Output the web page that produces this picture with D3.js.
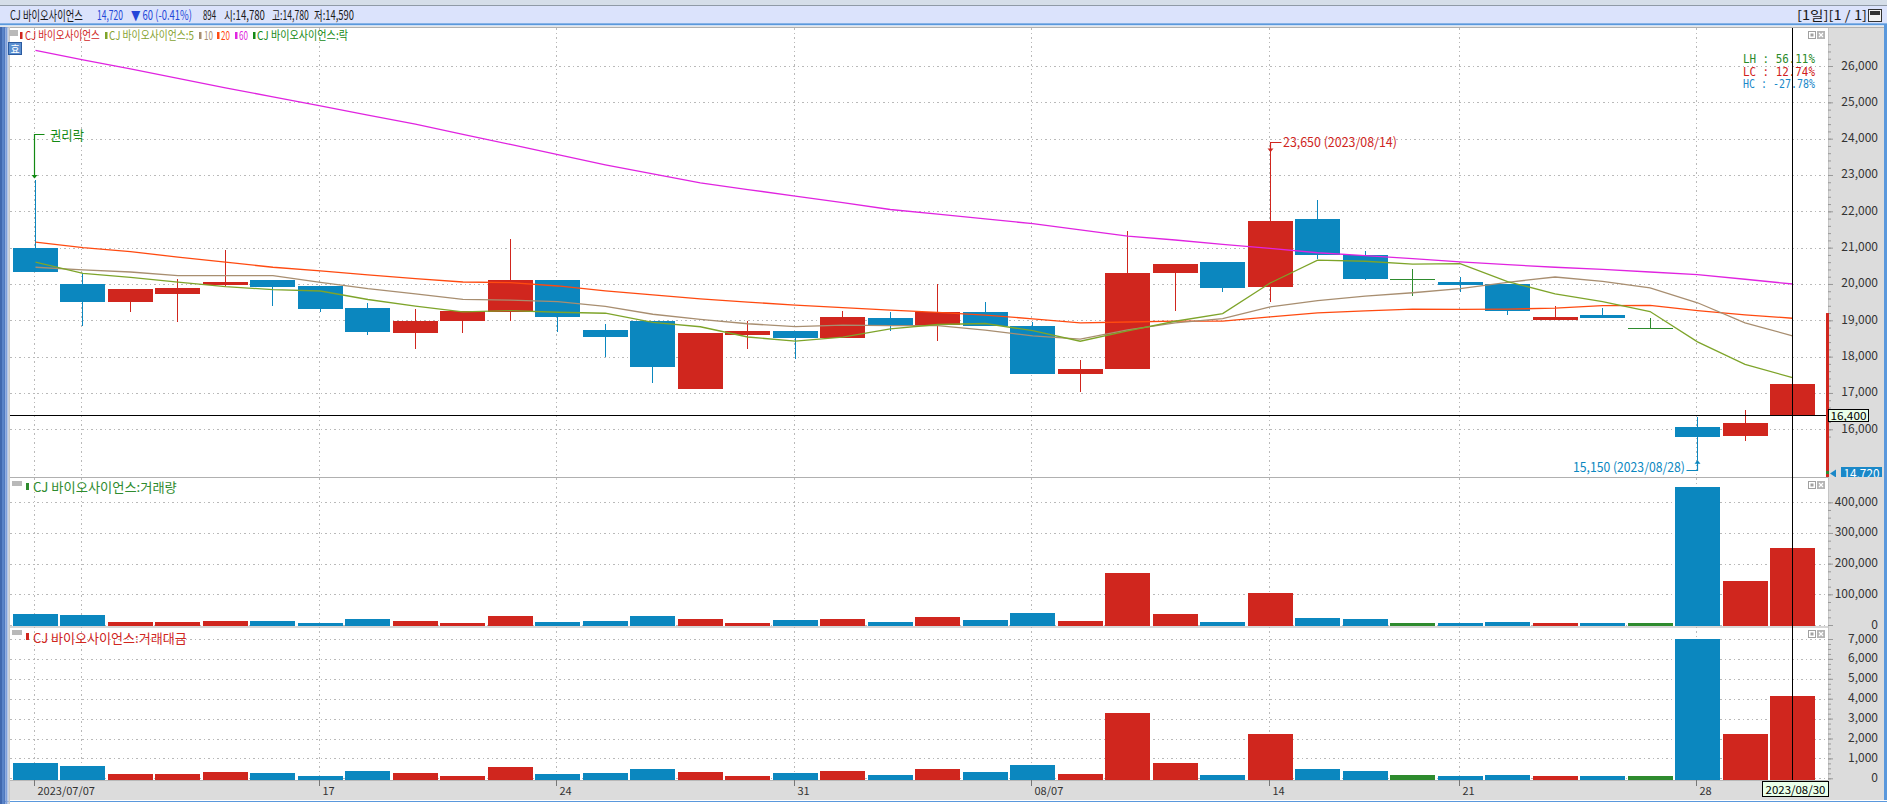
<!DOCTYPE html>
<html><head><meta charset="utf-8">
<script src="https://cdn.jsdelivr.net/npm/d3@7"></script>
<style>
html,body{margin:0;padding:0;background:#fff;overflow:hidden}
svg{display:block}
</style></head><body><svg id="c" width="1887" height="804"></svg>
<script>
// ---------------- data ----------------
const dates = ["2023-07-07","2023-07-10","2023-07-11","2023-07-12","2023-07-13","2023-07-14",
"2023-07-17","2023-07-18","2023-07-19","2023-07-20","2023-07-21",
"2023-07-24","2023-07-25","2023-07-26","2023-07-27","2023-07-28",
"2023-07-31","2023-08-01","2023-08-02","2023-08-03","2023-08-04",
"2023-08-07","2023-08-08","2023-08-09","2023-08-10","2023-08-11",
"2023-08-14","2023-08-16","2023-08-17","2023-08-18",
"2023-08-21","2023-08-22","2023-08-23","2023-08-24","2023-08-25",
"2023-08-28","2023-08-29","2023-08-30"];
const openP  = [21000,20000,19500,19725,19970,20110,19950,19340,18650,18980,19230,20110,18735,18980,17110,18600,18700,18510,19070,18870,19230,18840,17520,17650,20300,20600,19930,21790,20800,20150,20060,20000,19000,19140,18800,16070,15820,16400];
const highP  = [22850,20290,19860,20130,20935,20110,19950,19480,19310,19250,21230,20110,18900,18980,18650,18980,18700,19270,19230,20000,19500,18940,17900,21460,20560,20600,23650,22300,20900,20400,20200,20000,19400,19350,19050,16330,16530,17830];
const lowP   = [20330,18850,19230,18960,19945,19390,19240,18600,18210,18650,18980,18680,17990,17280,17110,18200,17940,18510,18700,18440,18840,17520,17030,17650,19270,19780,19500,20700,20100,19670,19780,19140,19000,19070,18800,15150,15690,15770];
const closeP = [20330,19505,19850,19890,20055,19920,19320,18680,18980,19250,20110,19090,18545,17720,18650,18700,18510,19100,18870,19240,18840,17520,17650,20300,20560,19900,21720,20800,20150,20150,19970,19270,19100,19070,18800,15800,16180,17250];
const ma5  = [20600,20290,20180,20050,19926,19844,19807,19573,19391,19230,19268,19222,19195,18943,18823,18541,18425,18536,18766,18884,18912,18714,18424,18710,18974,19186,20026,20656,20626,20544,20558,20068,19728,19512,19242,18408,17790,17420];
const ma10 = [20460,20390,20330,20230,20230,20230,20045,19870,19730,19578,19556,19515,19384,19167,19027,18905,18824,18866,18855,18854,18727,18570,18480,18738,18929,19049,19370,19540,19668,19759,19872,20047,20192,20069,19893,19483,18929,18574];
const ma20 = [21150,21000,20890,20740,20600,20460,20360,20250,20150,20055,20035,19945,19810,19700,19590,19500,19420,19350,19280,19216,19141,19042,18932,18953,18978,18977,19097,19203,19261,19306,19299,19308,19336,19404,19411,19266,19150,19057];
const ma60 = [26430,26170,25920,25660,25400,25150,24900,24650,24400,24120,23840,23560,23280,23030,22780,22600,22420,22240,22050,21920,21790,21660,21490,21320,21210,21090,20980,20860,20780,20700,20610,20530,20460,20400,20330,20260,20130,20000];
const volume = [35000,31000,10000,10000,14000,12000,7000,18000,13000,6000,30000,11000,13000,28000,19000,7000,15000,19000,10000,25000,16000,38000,13000,168000,37000,9000,104000,22000,18000,8000,6000,9000,5000,5000,5000,450000,142000,252000];
const amount = [780,640,200,230,300,250,140,350,250,110,580,220,270,480,340,140,290,370,190,470,310,680,240,3300,750,180,2230,470,390,170,120,180,100,100,100,7000,2230,4150];
const priceTicks  = [16000,17000,18000,19000,20000,21000,22000,23000,24000,25000,26000];
const volumeTicks = [0,100000,200000,300000,400000];
const amountTicks = [0,1000,2000,3000,4000,5000,6000,7000];
const gridDates  = ["2023-07-07","2023-07-10","2023-07-17","2023-07-24","2023-07-31","2023-08-07","2023-08-14","2023-08-21","2023-08-28"];
const labelDates = ["2023-07-07","2023-07-17","2023-07-24","2023-07-31","2023-08-07","2023-08-14","2023-08-21","2023-08-28"];
const labelTexts = ["2023/07/07","17","24","31","08/07","14","21","28"];
const crossDate = "2023-08-30", crossPrice = 16400;

// ---------------- setup ----------------
const F = '"Noto Sans CJK KR","Liberation Sans",sans-serif';
const svg = d3.select('#c');
const UP='#d0261e', DN='#0b87bf', EQ='#2e8b2e';
const colorOf = i => closeP[i]>openP[i]?UP:(closeP[i]<openP[i]?DN:EQ);

const x  = d3.scalePoint().domain(dates).range([35,1792]);
const yP = d3.scaleLinear().domain([16000,26000]).range([429.3,66]);
const yV = d3.scaleLinear().domain([0,400000]).range([625,502.3]);
const yA = d3.scaleLinear().domain([0,7000]).range([778.3,639]);
const BW = 45;

function rect(g,x0,y0,w,h,fill){return g.append('rect').attr('x',x0).attr('y',y0).attr('width',w).attr('height',h).attr('fill',fill);}
function txt(g,x0,y0,s,o={}){
  const size=o.size||12;
  const t=g.append('text').text(s).attr('font-size',size).attr('fill',o.color||'#222').attr('font-family',o.family||F);
  if(o.anchor) t.attr('text-anchor',o.anchor);
  if(o.len){
    const w=t.node().getComputedTextLength();
    const fs=size*o.len/w;
    t.attr('font-size',fs).attr('transform',`translate(${x0},${y0}) scale(1,${(size/fs).toFixed(4)})`);
  } else t.attr('x',x0).attr('y',y0);
  return t;
}

const defs = svg.append('defs');
[['clipP',10,28,1818,449],['clipV',10,478,1818,148],['clipA',10,628,1818,152],['clipAx',1826,27,60,450]].forEach(([id,a,b,w,h])=>
  defs.append('clipPath').attr('id',id).append('rect').attr('x',a).attr('y',b).attr('width',w).attr('height',h));

// ---------------- frame ----------------
rect(svg,0,0,1887,804,'#ffffff');
rect(svg,0,0,1887,6,'#d5dee9');
rect(svg,0,5,1887,1,'#8f9aa6');
rect(svg,0,6,1887,17.5,'#dbe3fc');
rect(svg,0,23.3,1887,2,'#5a98dc');
rect(svg,0,26.7,1887,1.3,'#b0b0b0');
rect(svg,1828,28,56,752,'#dcdcdc');
rect(svg,1828,28,1,752,'#c4c4c4');
rect(svg,1884,24,3,780,'#5a98dc');
rect(svg,10,780,1874,20,'#dcdcdc');
rect(svg,10,780,1818,1,'#b8b8b8');
rect(svg,0,800,1887,4,'#ffffff');
rect(svg,0,801,1887,1,'#5a98dc');
[['#4068ae',0,2],['#5a84c8',2,2],['#4f78bf',4,1.5],['#7e9fda',5.5,2],['#a9bfe6',7.5,1],['#c8c8c8',8.5,1.5]].forEach(([c,a,w])=>rect(svg,a,27,w,777,c));

// header text
const hg = svg.append('g');
txt(hg,10,19.5,'CJ 바이오사이언스',{size:13,len:73,color:'#1a1a1a'});
txt(hg,97,19.5,'14,720',{size:13,len:26,color:'#2346d8'});
txt(hg,131,19.5,'▼ 60 (-0.41%)',{size:13,len:61,color:'#2346d8'});
txt(hg,203,19.5,'894',{size:13,len:13,color:'#1a1a1a'});
txt(hg,224,19.5,'시:14,780',{size:13,len:41,color:'#1a1a1a'});
txt(hg,272,19.5,'고:14,780',{size:13,len:37,color:'#1a1a1a'});
txt(hg,314,19.5,'저:14,590',{size:13,len:40,color:'#1a1a1a'});
txt(hg,1797,19.5,'[1일][1 / 1]',{size:13,len:70,color:'#1a1a1a'});
rect(hg,1868.5,9.5,13,12,'#f2f2f2').attr('stroke','#333');
rect(hg,1870,11,10,4,'#333');

// ---------------- grid ----------------
const grid = svg.append('g').attr('stroke','#b9b9b9').attr('stroke-dasharray','1.5,3').attr('shape-rendering','crispEdges');
priceTicks.forEach(t=>{const yy=Math.round(yP(t))+0.5; grid.append('line').attr('x1',10).attr('x2',1826).attr('y1',yy).attr('y2',yy);});
volumeTicks.forEach(t=>{const yy=Math.round(yV(t))+0.5; grid.append('line').attr('x1',10).attr('x2',1826).attr('y1',yy).attr('y2',yy);});
amountTicks.forEach(t=>{const yy=Math.round(yA(t))+0.5; grid.append('line').attr('x1',10).attr('x2',1826).attr('y1',yy).attr('y2',yy);});
gridDates.forEach(d=>{const xx=Math.round(x(d))-0.5; grid.append('line').attr('x1',xx).attr('x2',xx).attr('y1',28).attr('y2',780);});

// ---------------- candles ----------------
const cg = svg.append('g').attr('clip-path','url(#clipP)').attr('shape-rendering','crispEdges');
dates.forEach((d,i)=>{
  const cx=Math.round(x(d)), c=colorOf(i);
  cg.append('line').attr('x1',cx+0.5).attr('x2',cx+0.5).attr('y1',yP(highP[i])).attr('y2',yP(lowP[i])).attr('stroke',c).attr('stroke-width',1);
  const y1=yP(Math.max(openP[i],closeP[i])), y2=yP(Math.min(openP[i],closeP[i]));
  rect(cg,cx-22,y1,BW,Math.max(1.5,y2-y1),c);
});
const lineGen = d3.line().x((v,i)=>x(dates[i])+0.5).y(v=>yP(v));
const mg = svg.append('g').attr('clip-path','url(#clipP)').attr('fill','none').attr('stroke-width',1.3);
[[ma60,'#e024e0'],[ma20,'#ff4a10'],[ma10,'#a88e70'],[ma5,'#7ea42a']].forEach(([arr,c])=>mg.append('path').attr('d',lineGen(arr)).attr('stroke',c));

// ---------------- volume & amount bars ----------------
const vg = svg.append('g').attr('clip-path','url(#clipV)').attr('shape-rendering','crispEdges');
dates.forEach((d,i)=>{const cx=Math.round(x(d)); rect(vg,cx-22,yV(volume[i]),BW,yV(0)+2-yV(volume[i]),colorOf(i));});
const ag = svg.append('g').attr('clip-path','url(#clipA)').attr('shape-rendering','crispEdges');
dates.forEach((d,i)=>{const cx=Math.round(x(d)); rect(ag,cx-22,yA(amount[i]),BW,yA(0)+1.5-yA(amount[i]),colorOf(i));});

rect(svg,10,477,1818,1,'#b0b0b0');
rect(svg,10,626.5,1818,1,'#b0b0b0');

// ---------------- axes ----------------
function rightAxis(scale,ticks,minor,fmt){
  const g=svg.append('g').attr('transform','translate(1828,0)');
  const gm=g.append('g').call(d3.axisRight(scale).tickValues(minor).tickSize(3).tickFormat(''));
  gm.select('.domain').remove(); gm.selectAll('line').attr('stroke','#9a9a9a');
  const ga=g.append('g').call(d3.axisRight(scale).tickValues(ticks).tickSize(5).tickFormat(fmt));
  ga.select('.domain').remove(); ga.selectAll('line').attr('stroke','#9a9a9a');
  ga.attr('font-size',12).attr('font-family',F);
  ga.selectAll('text').attr('x',50).attr('text-anchor','end').attr('fill','#333').attr('dy','0.25em');
}
const fmt = d3.format(',');
rightAxis(yP,priceTicks,d3.range(15800,26601,200),fmt);
rightAxis(yV,volumeTicks,d3.range(0,420001,25000),fmt);
rightAxis(yA,amountTicks,d3.range(0,7001,250),fmt);

const xg = svg.append('g');
labelDates.forEach((d,i)=>{
  const xx=Math.round(x(d))-0.5;
  xg.append('line').attr('x1',xx).attr('x2',xx).attr('y1',780).attr('y2',786).attr('stroke','#777');
  txt(xg,xx+3,795,labelTexts[i],{size:11,color:'#333'});
});

// ---------------- legends ----------------
const lg = svg.append('g');
rect(lg,9,30,9,6,'#b9b9b9');
rect(lg,20,32,2.5,7,'#d0261e'); txt(lg,25,39.5,'CJ 바이오사이언스',{size:12,len:75,color:'#d0261e'});
rect(lg,105,32,2.5,7,'#7ea42a'); txt(lg,109,39.5,'CJ 바이오사이언스:5',{size:12,len:85,color:'#86a332'});
rect(lg,199,32,2.5,7,'#a88e70'); txt(lg,204,39.5,'10',{size:12,len:9,color:'#a88e70'});
rect(lg,217,32,2.5,7,'#ff4a10'); txt(lg,221,39.5,'20',{size:12,len:9,color:'#ff4a10'});
rect(lg,235,32,2.5,7,'#e024e0'); txt(lg,239,39.5,'60',{size:12,len:9,color:'#e024e0'});
rect(lg,253,32,2.5,7,'#158a15'); txt(lg,257,39.5,'CJ 바이오사이언스:락',{size:12,len:91,color:'#158a15'});
rect(lg,8.5,42.5,13,12,'#5b8fd0').attr('stroke','#2b5aa0');
txt(lg,15,52.5,'효',{size:10,color:'#fff',anchor:'middle'});

rect(lg,12,481,10,5,'#b9b9b9');
rect(lg,26,483,3,7,'#2e8b2e'); txt(lg,33,492,'CJ 바이오사이언스:거래량',{size:13,len:144,color:'#2e8b2e'});
rect(lg,12,630,10,5,'#b9b9b9');
rect(lg,26,633,3,7,'#d0261e'); txt(lg,33,643,'CJ 바이오사이언스:거래대금',{size:13,len:154,color:'#d0261e'});

[31,481,630].forEach(py=>{
  rect(lg,1808.5,py+0.5,7,7,'#fff').attr('stroke','#a0a0a0');
  rect(lg,1810.5,py+2.5,3,3,'#a0a0a0');
  rect(lg,1817,py,8,8,'#b4b4b4');
  lg.append('path').attr('d',`M${1819},${py+2}L${1823},${py+6}M${1823},${py+2}L${1819},${py+6}`).attr('stroke','#fff').attr('stroke-width',1.2);
});

const mono='"DejaVu Sans Mono","Liberation Mono",monospace';
txt(lg,1743,63,'LH :  56.11%',{size:13,len:72,color:'#2a8a2a',family:mono});
txt(lg,1743,75.5,'LC :  12.74%',{size:13,len:72,color:'#d02020',family:mono});
txt(lg,1743,88,'HC : -27.78%',{size:13,len:72,color:'#1a88c8',family:mono});

// ---------------- annotations ----------------
const an = svg.append('g').attr('fill','none');
const x0 = Math.round(x(dates[0]))-0.5, yEx = yP(highP[0])-3;
an.append('path').attr('d',`M${x0},${yEx} V134.5 H${x0+10}`).attr('stroke','#138a13').attr('stroke-width',1.2);
an.append('path').attr('d',`M${x0-3},${yEx-2.5} H${x0+3} L${x0},${yEx+1} Z`).attr('fill','#138a13');
txt(svg,50,139.5,'권리락',{size:13,len:34,color:'#138a13'});
const iH = dates.indexOf("2023-08-14"), xH=Math.round(x(dates[iH]))+0.5, yH=yP(highP[iH]);
an.append('path').attr('d',`M${xH},${yH} V142.5 H${xH+11}`).attr('stroke','#d0261e').attr('stroke-width',1.2);
an.append('path').attr('d',`M${xH-3},${yH-3} H${xH+3} L${xH},${yH+0.5} Z`).attr('fill','#d0261e');
txt(svg,1283,147,'23,650 (2023/08/14)',{size:13,len:114,color:'#d0261e'});
const iL = dates.indexOf("2023-08-28"), xL=Math.round(x(dates[iL]))+0.5, yL=yP(lowP[iL]);
an.append('path').attr('d',`M${xL},${yL} V470.5 H${xL-11}`).attr('stroke','#0b87bf').attr('stroke-width',1.2);
an.append('path').attr('d',`M${xL-3},${yL+3.5} H${xL+3} L${xL},${yL} Z`).attr('fill','#0b87bf');
txt(svg,1573,471.5,'15,150 (2023/08/28)',{size:13,len:112,color:'#0b87bf'});

// ---------------- crosshair & markers ----------------
const xc = Math.round(x(crossDate))+0.5, yc=Math.round(yP(crossPrice))+0.5;
svg.append('line').attr('x1',10).attr('x2',1828).attr('y1',yc).attr('y2',yc).attr('stroke','#000');
svg.append('line').attr('x1',xc).attr('x2',xc).attr('y1',28).attr('y2',780).attr('stroke','#000');
rect(svg,1826,yP(19200),3,477-yP(19200),'#d0261e');
rect(svg,1826,471,3,3,'#2e8b2e');
const mk = svg.append('g').attr('clip-path','url(#clipAx)');
mk.append('path').attr('d','M1830,473.5 L1836,469.5 L1836,477.5 Z').attr('fill','#1a88c8');
rect(mk,1841,467,41,14,'#1a88c8');
txt(mk,1861.5,478,'14,720',{size:12,color:'#fff',anchor:'middle',len:36});
rect(svg,1828.5,409.5,40,12,'#eaffea').attr('stroke','#000');
txt(svg,1848.5,419.5,'16,400',{size:11,color:'#000',anchor:'middle',len:36});
rect(svg,1762.5,781.5,66,15,'#eaffea').attr('stroke','#000');
txt(svg,1795.5,793.5,'2023/08/30',{size:11,color:'#000',anchor:'middle',len:60});
</script></body></html>
